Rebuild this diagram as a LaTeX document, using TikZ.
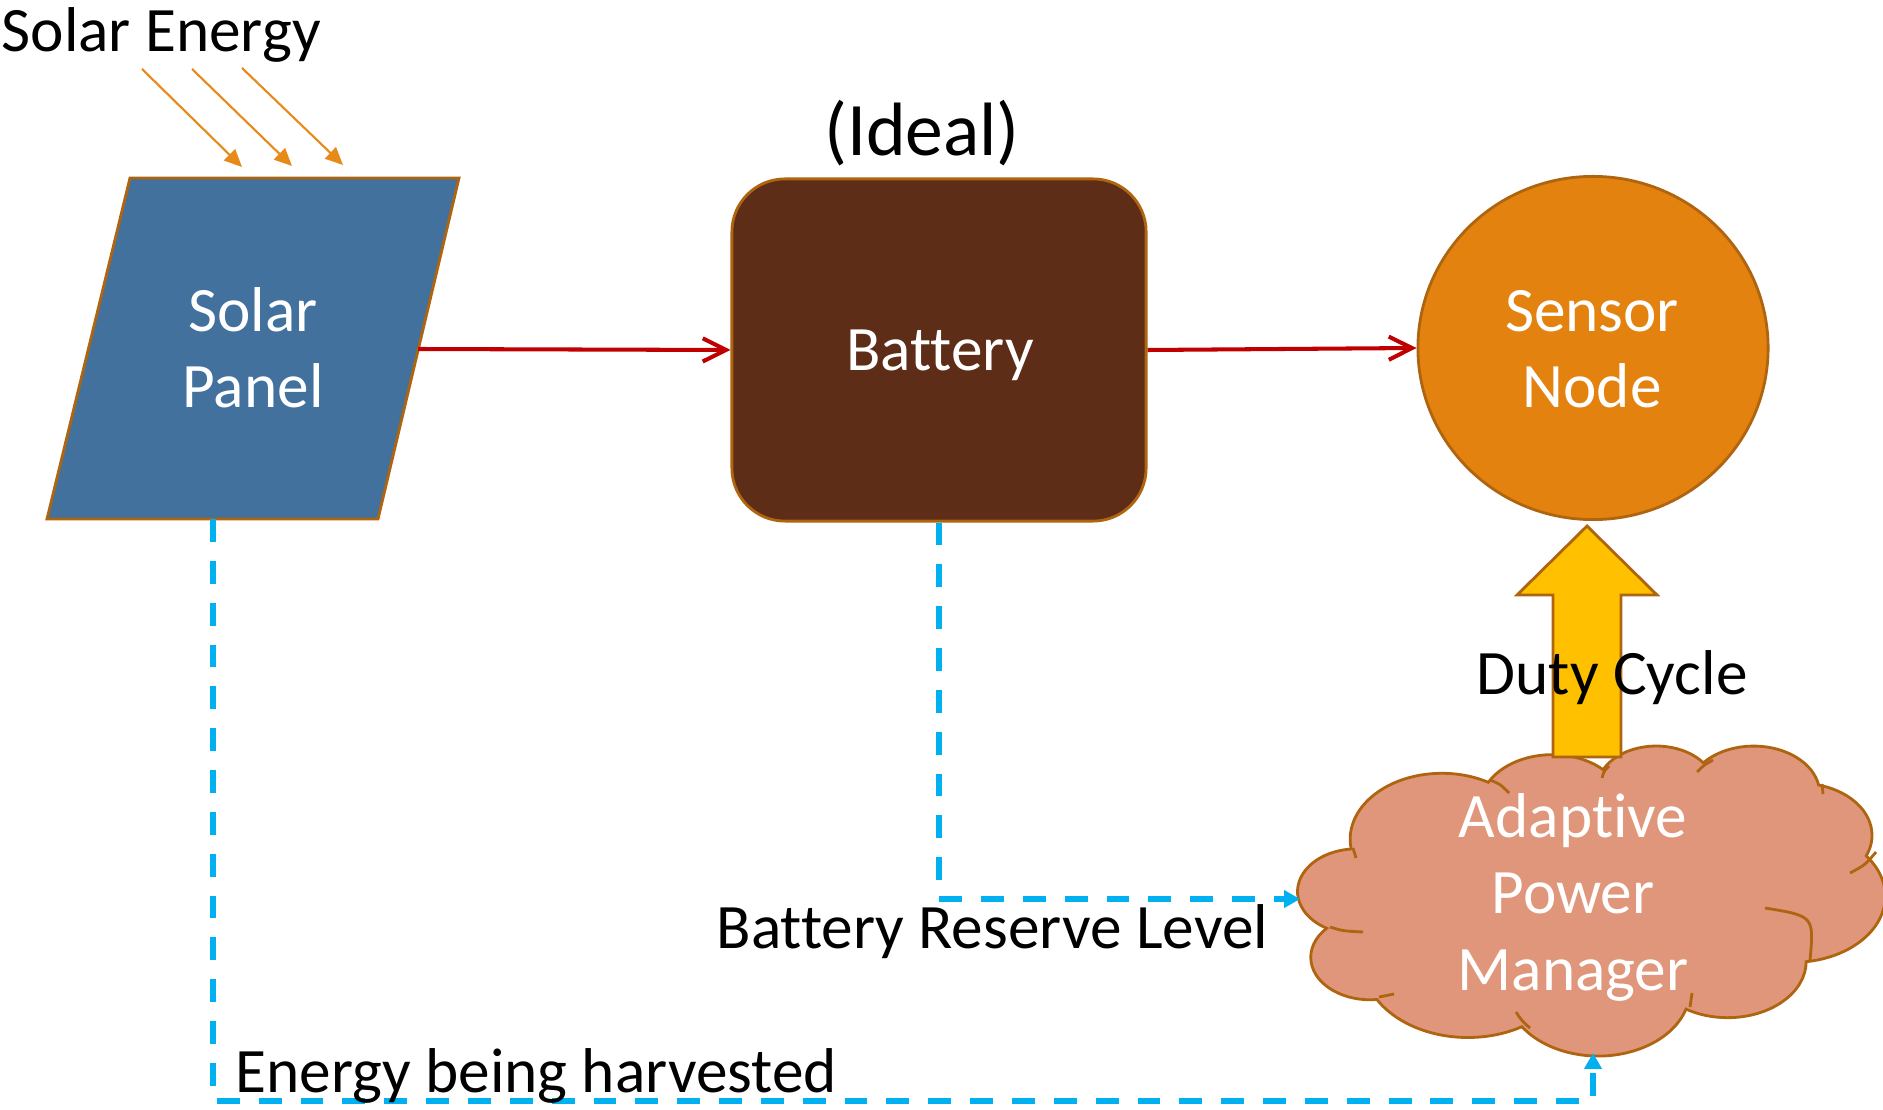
\documentclass[tikz,border=0pt]{standalone}
\usepackage{fontspec}
\setmainfont{Carlito}[Ligatures={NoCommon}]
\usetikzlibrary{arrows.meta,shapes.geometric}

\definecolor{panelblue}{HTML}{41719C}
\definecolor{edgebrown}{HTML}{AF640F}
\definecolor{batbrown}{HTML}{5E2D18}
\definecolor{sensororange}{HTML}{E3820F}
\definecolor{dutyyellow}{HTML}{FFC000}
\definecolor{cloudpink}{HTML}{E0967A}
\definecolor{dashblue}{HTML}{00B0F0}
\definecolor{flowred}{HTML}{C00000}
\definecolor{sunorange}{HTML}{E68A1A}

\tikzset{oo/.style n args={4}{
  start angle={atan2((#1)*sin(#3),(#2)*cos(#3))},
  delta angle={mod(atan2((#1)*sin((#3)+(#4)),(#2)*cos((#3)+(#4)))-atan2((#1)*sin(#3),(#2)*cos(#3))+720,360)},
  x radius=#1, y radius=#2}}

\begin{document}
\begin{tikzpicture}[x=0.01cm,y=-0.01cm,
  shapeedge/.style={draw=edgebrown, line width=0.8pt},
  lbl/.style={inner sep=0pt, font=\fontsize{18pt}{21.6pt}\selectfont, anchor=base},
  wlbl/.style={lbl, text=white},
  flow/.style={draw=flowred, line width=1.15pt, -{Straight Barb[length=6.6pt,width=6.6pt]}},
  info/.style={draw=dashblue, line width=1.6pt, dash pattern=on 6.5pt off 5.4pt, -{Triangle[length=4.5pt,width=4.8pt]}},
  sunray/.style={draw=sunorange, line width=0.6pt, -{Triangle[length=5pt,width=4.5pt]}}]

\useasboundingbox (0,0) rectangle (1883,1110);

% Solar panel
\draw[shapeedge, fill=panelblue] (130,178) -- (459,178) -- (378,519) -- (47,519) -- cycle;
\coordinate (panelR) at (418,349);
\coordinate (panelB) at (213,519);
\node[wlbl] (solarL) at (253,332) {Solar};
\node[wlbl] (panelL) at (253,408) {Panel};

% Sun rays
\coordinate (s1a) at (142,69);  \coordinate (s1b) at (242,167);
\coordinate (s2a) at (192,69);  \coordinate (s2b) at (292,166);
\coordinate (s3a) at (242,68);  \coordinate (s3b) at (343,165);
\draw[sunray] (s1a) -- (s1b);
\draw[sunray] (s2a) -- (s2b);
\draw[sunray] (s3a) -- (s3b);
\node[lbl, anchor=base west] (solarE) at (1,52) {Solar Energy};

% Battery
\node[shapeedge, fill=batbrown, rounded corners=0.53cm, minimum width=4.14cm, minimum height=3.42cm, inner sep=0pt] (battery) at (939,350) {};
\node[wlbl] (batL) at (940,371) {Battery};
\node[lbl, font=\fontsize{21.5pt}{25pt}\selectfont] (ideal) at (922,156) {(Ideal)};

% Sensor node
\node[shapeedge, fill=sensororange, ellipse, minimum width=3.50cm, minimum height=3.43cm, inner sep=0pt] (sensor) at (1593,348) {};
\node[wlbl] (sensL) at (1592,332) {Sensor};
\node[wlbl] (nodeL) at (1592,408) {Node};

% Cloud outline
\begin{scope}[shift={(1298,745)}, x=0.0013542cm, y=-0.00071296cm]
\draw[shapeedge, fill=cloudpink] (390,1437)
  arc[oo={675.3}{919.0}{-190.4875}{123.7805}]
  arc[oo={533.3}{726.7}{-144.1024}{89.9452}]
  arc[oo={436.5}{594.5}{-145.8079}{99.7230}]
  arc[oo={485.7}{659.5}{-130.9861}{117.2417}]
  arc[oo={533.3}{727.3}{-78.7089}{109.0269}]
  arc[oo={677.5}{922.0}{-46.2673}{130.2690}]
  arc[oo={578.5}{786.7}{0.6250}{114.0333}]
  arc[oo={675.2}{921.5}{22.4516}{115.1726}]
  arc[oo={772.0}{1054.3}{66.2426}{75.7110}]
  arc[oo={436.0}{591.8}{-274.9421}{146.7356}]
  arc[oo={434.5}{594.5}{-246.8285}{152.5189}]
  -- cycle;
\end{scope}
% Cloud inner puff lines
\draw[shapeedge]
  (1353,848) .. controls (1354,853) .. (1356,858)
  (1490,780) .. controls (1500,784) .. (1509,793)
  (1602,778) .. controls (1604,771) .. (1609,766)
  (1697,772) .. controls (1704,765) .. (1713,760)
  (1822,784) .. controls (1823,789) .. (1823,794)
  (1850,873) .. controls (1865,865) .. (1876,852)
  (1765,908) .. controls (1814,916) .. (1810,960)
  (1692,993) .. controls (1691,1000) .. (1690,1007)
  (1516,1012) .. controls (1522,1021) .. (1530,1028)
  (1379,997) .. controls (1387,995) .. (1394,994)
  (1330,927) .. controls (1343,931) .. (1363,932);
\coordinate (cloudW) at (1300,899);
\coordinate (cloudS) at (1593,1053);
\coordinate (hcorner) at (1593,1101);
\node[wlbl] (apmA) at (1573,837) {Adaptive};
\node[wlbl] (apmP) at (1573,913) {Power};
\node[wlbl] (apmM) at (1573,990) {Manager};

% Duty cycle block arrow
\draw[shapeedge, fill=dutyyellow] (1587,526) -- (1657,595) -- (1621,595) -- (1621,757) -- (1553,757) -- (1553,595) -- (1517,595) -- cycle;
\node[lbl, anchor=base west] (duty) at (1476,694) {Duty Cycle};

% Connectors
\draw[flow] (panelR) -- (battery.west);
\draw[flow] (battery.east) -- (sensor.west);
\draw[info] (battery.south) |- (cloudW);
\draw[info] (panelB) |- (hcorner) -- (cloudS);

\node[lbl, anchor=base west] (reserve) at (716,948) {Battery Reserve Level};
\node[lbl, anchor=base west] (harvest) at (235,1092) {Energy being harvested};
\end{tikzpicture}
\end{document}
